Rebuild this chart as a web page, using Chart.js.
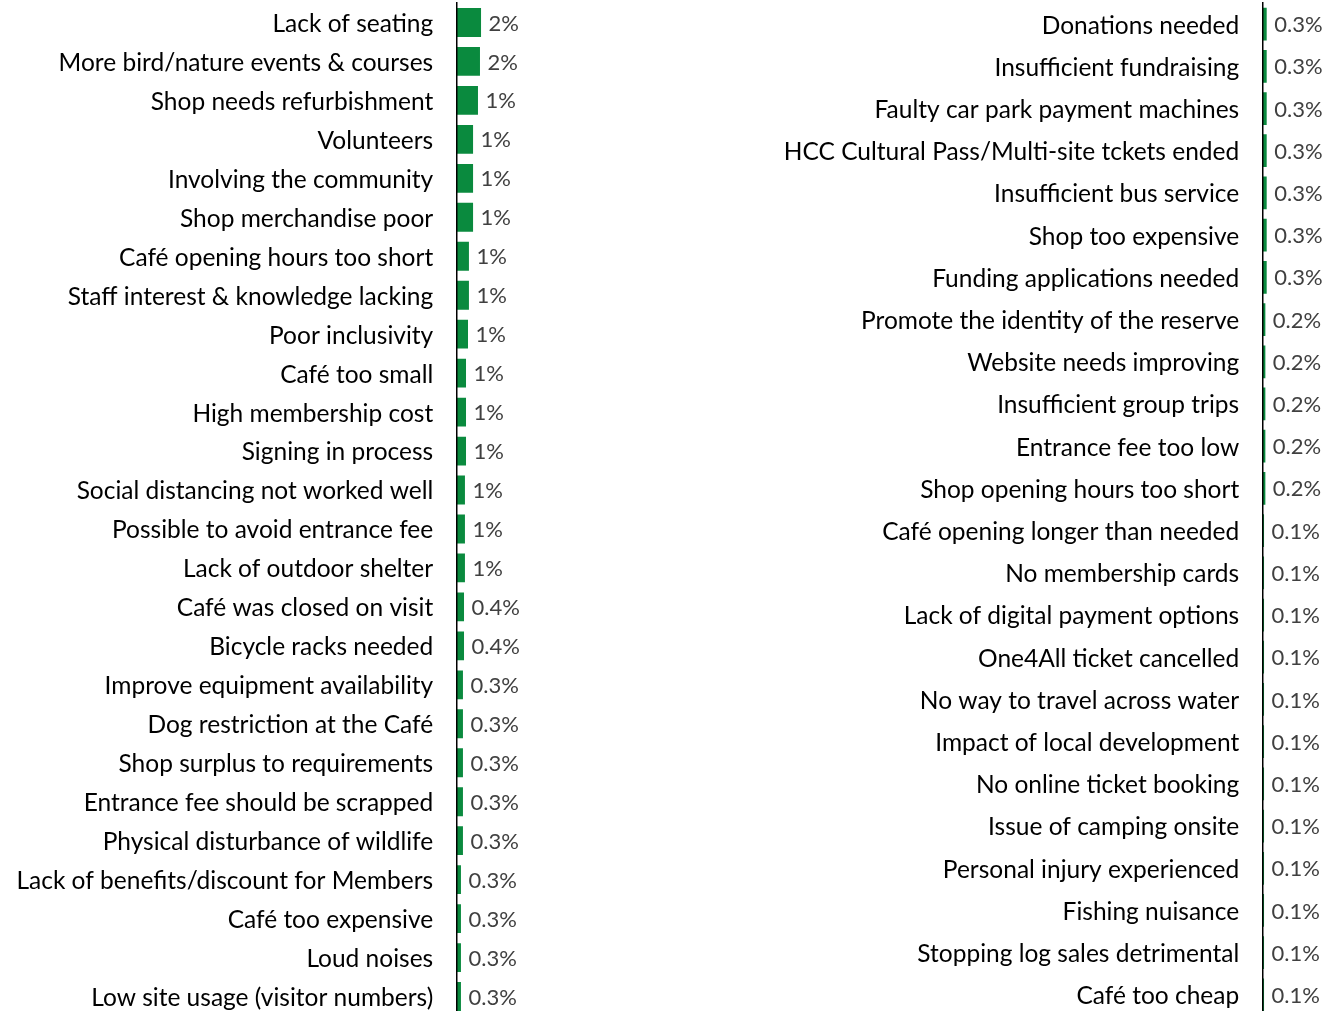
<!DOCTYPE html>
<html>
<head>
<meta charset="utf-8">
<script src="https://cdn.jsdelivr.net/npm/chart.js@4.4.1/dist/chart.umd.min.js"></script>
<style>
  html, body { margin: 0; padding: 0; background: #fff; overflow: hidden; width: 1340px; height: 1011px; }
  canvas { position: absolute; top: 0; }
  #left { left: 0; }
  #right { left: 600px; }
</style>
</head>
<body>
<canvas id="left" width="600" height="1016"></canvas>
<canvas id="right" width="740" height="1016"></canvas>
<script>
// ---- Data (percent of responses) ----
const leftCategories = [
  'Lack of seating', 'More bird/nature events & courses', 'Shop needs refurbishment',
  'Volunteers', 'Involving the community', 'Shop merchandise poor',
  'Café opening hours too short', 'Staff interest & knowledge lacking', 'Poor inclusivity',
  'Café too small', 'High membership cost', 'Signing in process',
  'Social distancing not worked well', 'Possible to avoid entrance fee', 'Lack of outdoor shelter',
  'Café was closed on visit', 'Bicycle racks needed', 'Improve equipment availability',
  'Dog restriction at the Café', 'Shop surplus to requirements', 'Entrance fee should be scrapped',
  'Physical disturbance of wildlife', 'Lack of benefits/discount for Members', 'Café too expensive',
  'Loud noises', 'Low site usage (visitor numbers)'
];
const leftValues = [
  1.83, 1.75, 1.60,
  1.23, 1.23, 1.23,
  0.92, 0.92, 0.85,
  0.70, 0.70, 0.70,
  0.62, 0.62, 0.62,
  0.55, 0.55, 0.47,
  0.47, 0.47, 0.47,
  0.47, 0.32, 0.32,
  0.32, 0.32
];
const leftLabels = [
  '2%', '2%', '1%',
  '1%', '1%', '1%',
  '1%', '1%', '1%',
  '1%', '1%', '1%',
  '1%', '1%', '1%',
  '0.4%', '0.4%', '0.3%',
  '0.3%', '0.3%', '0.3%',
  '0.3%', '0.3%', '0.3%',
  '0.3%', '0.3%'
];

const rightCategories = [
  'Donations needed', 'Insufficient fundraising', 'Faulty car park payment machines',
  'HCC Cultural Pass/Multi-site tckets ended', 'Insufficient bus service', 'Shop too expensive',
  'Funding applications needed', 'Promote the identity of the reserve', 'Website needs improving',
  'Insufficient group trips', 'Entrance fee too low', 'Shop opening hours too short',
  'Café opening longer than needed', 'No membership cards', 'Lack of digital payment options',
  'One4All ticket cancelled', 'No way to travel across water', 'Impact of local development',
  'No online ticket booking', 'Issue of camping onsite', 'Personal injury experienced',
  'Fishing nuisance', 'Stopping log sales detrimental', 'Café too cheap'
];
const rightValues = [
  0.3, 0.3, 0.3, 0.3, 0.3, 0.3, 0.3,
  0.2, 0.2, 0.2, 0.2, 0.2,
  0.1, 0.1, 0.1, 0.1, 0.1, 0.1, 0.1, 0.1, 0.1, 0.1, 0.1, 0.1
];
const rightLabels = [
  '0.3%', '0.3%', '0.3%', '0.3%', '0.3%', '0.3%', '0.3%',
  '0.2%', '0.2%', '0.2%', '0.2%', '0.2%',
  '0.1%', '0.1%', '0.1%', '0.1%', '0.1%', '0.1%', '0.1%', '0.1%', '0.1%', '0.1%', '0.1%', '0.1%'
];

// ---- Styling ----
const FONT = 'Lato, "Open Sans", sans-serif';
const BAR_COLOR = '#0a8a3e';
const LABEL_COLOR = '#404040';

const valueLabelPlugin = {
  id: 'valueLabels',
  afterDatasetsDraw(chart) {
    const ctx = chart.ctx;
    const labels = chart.options.plugins.valueLabels.labels;
    const meta = chart.getDatasetMeta(0);
    ctx.save();
    ctx.font = '22px ' + FONT;
    ctx.fillStyle = LABEL_COLOR;
    ctx.textAlign = 'left';
    ctx.textBaseline = 'middle';
    meta.data.forEach((bar, i) => {
      ctx.fillText(labels[i], bar.x + 7.5, bar.y + 1);
    });
    ctx.restore();
  }
};

function makeChart(id, categories, values, labels, axisWidth, catPct, xMax, padRight) {
  return new Chart(document.getElementById(id), {
    type: 'bar',
    data: {
      labels: categories,
      datasets: [{
        data: values,
        backgroundColor: BAR_COLOR,
        borderWidth: 0,
        barPercentage: 1,
        categoryPercentage: catPct
      }]
    },
    options: {
      indexAxis: 'y',
      responsive: false,
      animation: false,
      devicePixelRatio: 1,
      layout: { padding: { top: 3, bottom: 0, left: 0, right: padRight } },
      plugins: {
        legend: { display: false },
        tooltip: { enabled: false },
        valueLabels: { labels: labels }
      },
      scales: {
        x: {
          display: false,
          min: 0,
          max: xMax
        },
        y: {
          afterFit(scale) {
            scale.width = axisWidth;
            scale.paddingTop = 0;
            scale.paddingBottom = 0;
          },
          grid: { display: false, drawTicks: false },
          border: { display: true, color: '#000', width: 1.5, z: 1 },
          ticks: {
            color: '#000',
            padding: 23.5,
            labelOffset: 1.5,
            autoSkip: false,
            font: { family: FONT, size: 24.5 }
          }
        }
      }
    },
    plugins: [valueLabelPlugin]
  });
}

// left: axis at x≈456.7, 13.3 px per percent point
makeChart('left', leftCategories, leftValues, leftLabels, 456.7, 0.74, 8, 600 - 456.7 - 8 * 13.3);
// right: axis at x≈1262.7 (canvas starts at 600)
makeChart('right', rightCategories, rightValues, rightLabels, 662.7, 0.775, (740 - 662.7) / 13.3, 0);
</script>
</body>
</html>
